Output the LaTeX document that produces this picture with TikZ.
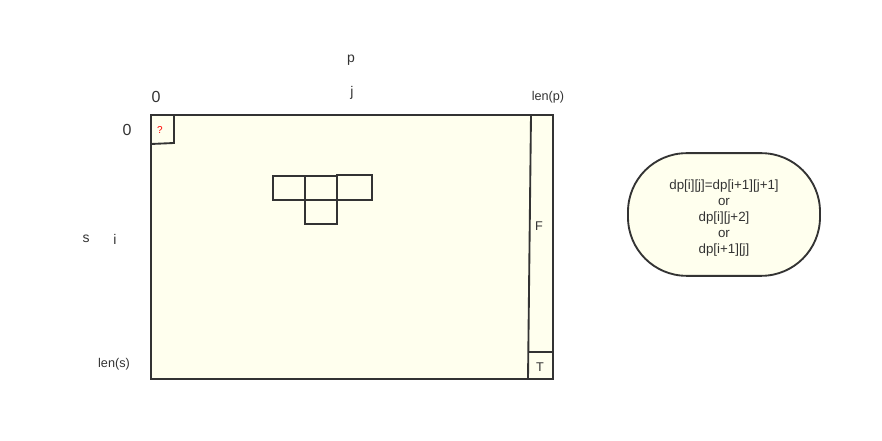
\documentclass[tikz,border=0pt]{standalone}
\usepackage{fontspec}
\setmainfont{Liberation Sans}
\usepackage{tikz}
\definecolor{ivory}{RGB}{255,255,238}
\definecolor{ink}{RGB}{51,51,51}
\begin{document}
\begin{tikzpicture}[
x=0.75pt, y=-0.75pt,
lbl/.style={inner sep=0pt, text=ink, font=\fontsize{10.5}{12}\selectfont},
small/.style={inner sep=0pt, text=ink, font=\fontsize{9.5}{11}\selectfont},
cell/.style={draw=ink, line width=1.4pt},
rule/.style={draw=ink, line width=1.4pt},
note/.style={
	draw=ink, line width=1.4pt, fill=ivory,
	minimum width=144pt, minimum height=92pt,
	rounded corners=44pt, align=center, text=ink,
	font=\fontsize{10}{12}\selectfont
}
]
\useasboundingbox (0,0) rectangle (882,441);
% table
\draw[rule, fill=ivory] (151,115) rectangle (553,379);
\draw[rule] (531,115) -- (528,379);
\draw[rule] (528,352) -- (553,352);
\draw[rule] (174,115) -- (174,143) -- (151,144);
\node[inner sep=0pt, text=red, font=\fontsize{7.5}{8}\selectfont\rmfamily] (q) at (160,130) {?};
% cells
\draw[cell] (273,176) rectangle (305,200);
\draw[cell] (305,176) rectangle (337,200);
\draw[cell] (337,175) rectangle (372,200);
\draw[cell] (305,200) rectangle (337,224);
% labels
\node[lbl] (p) at (351,60) {p};
\node[lbl] (j) at (352,93) {j};
\node[lbl, font=\fontsize{12}{14}\selectfont] (c0) at (156,97) {0};
\node[lbl, font=\fontsize{12}{14}\selectfont] (r0) at (127,130) {0};
\node[lbl] (s) at (86,239) {s};
\node[lbl] (i) at (115,239) {i};
\node[small] (ls) at (114,364) {len(s)};
\node[small] (lp) at (548,97) {len(p)};
\node[small] (F) at (539,226) {F};
\node[small] (T) at (540,367) {T};
% rule
\node[note] (rec) at (724,214.5) {\rule{0pt}{12pt}dp[i][j]=dp[i+1][j+1]\\or\\dp[i][j+2]\\or\\dp[i+1][j]};
\end{tikzpicture}
\end{document}
